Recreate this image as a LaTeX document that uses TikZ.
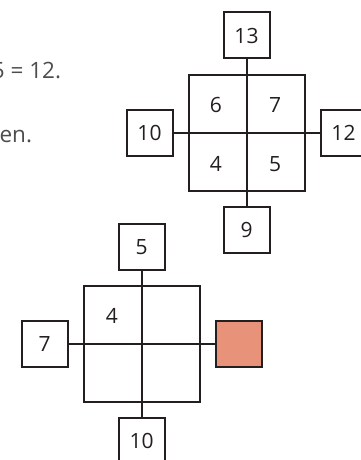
\documentclass[tikz,border=0pt]{standalone}
\usepackage{fontspec}
\setmainfont{Open Sans}
\usetikzlibrary{positioning}
\definecolor{ink}{HTML}{231F20}
\definecolor{prose}{HTML}{4D4D4D}
\definecolor{salmon}{HTML}{E8927A}
\tikzset{every picture/.style={line width=2pt}}
\tikzset{
  numbox/.style={draw=ink, minimum size=46pt, inner sep=0pt, text=ink,
    font=\fontsize{21}{25}\selectfont},
  bigsq/.style={draw=ink, minimum size=116pt, inner sep=0pt},
  cellnum/.style={inner sep=0pt, text=ink, font=\fontsize{21}{25}\selectfont},
  prosetext/.style={inner sep=0pt, anchor=base east, text=prose,
    font=\fontsize{22.5}{27}\selectfont},
}

\begin{document}
\begin{tikzpicture}[x=1pt,y=-1pt,node distance=14pt]
\useasboundingbox (0,0) rectangle (360,460);
\node[prosetext] (eq) at (62,78) {5 = 12.};
\node[prosetext] (en) at (33,142) {en.};
%
\node[bigsq] (U) at (246.5,132.5) {};
\node[numbox, above=of U] (Ut) {13};
\node[numbox, below=of U] (Ub) {9};
\node[numbox, left=of U] (Ul) {10};
\node[numbox, right=of U] (Ur) {12};
\node[cellnum] (U6) at (216,105) {6};
\node[cellnum] (U7) at (275,105) {7};
\node[cellnum] (U4) at (216,164) {4};
\node[cellnum] (U5) at (275,164) {5};
%
\node[bigsq] (L) at (141.7,344) {};
\node[numbox, above=of L] (Lt) {5};
\node[numbox, below=of L] (Lb) {10};
\node[numbox, left=of L] (Ll) {7};
\node[numbox, right=of L, fill=salmon] (Lr) {};
\node[cellnum] (L4) at (112,316) {4};
%
\foreach \Source/\Target in {%
        Ut.south/Ub.north,
        Ul.east/Ur.west,
        Lt.south/Lb.north,
        Ll.east/Lr.west%
    }
\draw[ink] (\Source) to (\Target);
\end{tikzpicture}
\end{document}
